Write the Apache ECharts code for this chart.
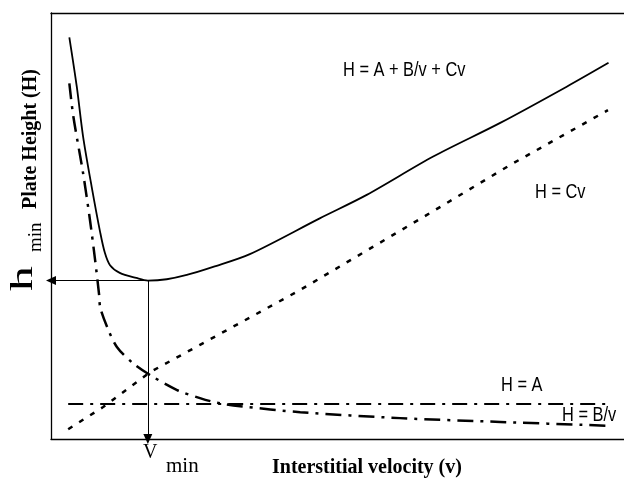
<!DOCTYPE html>
<html>
<head>
<meta charset="utf-8">
<script src="https://cdn.jsdelivr.net/npm/echarts@6/dist/echarts.min.js"></script>
<style>html,body{margin:0;padding:0;background:#fff}#c{width:624px;height:479px}</style>
</head>
<body>
<div id="c"></div>
<script>
// Velocity (v) and plate height (H) in arbitrary 0-100 units
var totalV = [3.2, 4.5, 5.6, 7.1, 8.6, 9.4, 10.3, 12.0, 14.9, 16.9, 20.2, 23.7, 28.3, 34.7, 46.9, 55.1, 66.7, 78.4, 90.0, 97.3];
var totalH = [94.3, 82.7, 71.0, 59.2, 48.4, 43.7, 40.8, 39.0, 37.8, 37.2, 37.5, 38.5, 40.4, 43.4, 51.8, 57.3, 66.3, 74.2, 82.7, 88.3];
var cvV = [3.0, 9.1, 17.3, 26.0, 43.5, 65.6, 80.1, 97.2];
var cvH = [2.3, 7.5, 15.7, 22.1, 35.0, 52.6, 64.3, 77.2];
var aV = [3.0, 97.6];
var aH = [8.2, 8.2];
var bvV = [3.2, 3.9, 5.6, 6.8, 7.7, 8.4, 8.6, 9.8, 11.5, 14.3, 17.3, 22.0, 26.0, 29.0, 33.0, 43.5, 60.9, 78.4, 97.6];
var bvH = [83.5, 75.7, 62.4, 51.4, 42.0, 33.8, 30.8, 26.3, 21.6, 17.8, 15.0, 11.5, 9.6, 8.5, 7.7, 6.3, 4.9, 4.0, 3.1];

function pairs(xs, ys) { return xs.map(function (x, i) { return [x, ys[i]]; }); }

// minimum of the total curve
var iMin = 0;
totalH.forEach(function (h, i) { if (h < totalH[iMin]) iMin = i; });
var vMin = totalV[iMin], hMin = totalH[iMin];

var chart = echarts.init(document.getElementById('c'), null, { renderer: 'canvas' });
var serif = '"Liberation Serif", "Times New Roman", serif';
var sans = '"Liberation Sans", Arial, sans-serif';
function eq(text, x, y) {
  return { type: 'text', x: x, y: y, scaleX: 0.78, silent: true,
    style: { text: text, font: '21px ' + sans, fill: '#000', textAlign: 'left', textVerticalAlign: 'middle' } };
}
var axisCommon = {
  type: 'value', min: 0, max: 100,
  axisLine: { show: true, onZero: false, lineStyle: { color: '#000', width: 1.3 } },
  axisTick: { show: false }, axisLabel: { show: false }, splitLine: { show: false }
};
chart.setOption({
  animation: false,
  backgroundColor: '#fff',
  grid: { left: 51, right: 0, top: 13, bottom: 40 },
  xAxis: [
    Object.assign({}, axisCommon, { position: 'bottom' }),
    Object.assign({}, axisCommon, { position: 'top' })
  ],
  yAxis: [ Object.assign({}, axisCommon, { position: 'left' }) ],
  series: [
    { type: 'line', data: pairs(totalV, totalH), showSymbol: false, smooth: 0.3,
      lineStyle: { color: '#000', width: 1.8 },
      markLine: { silent: true, symbol: ['none', 'triangle'], symbolSize: [9, 10],
        label: { show: false },
        lineStyle: { color: '#000', width: 1, type: 'solid' },
        data: [
          [{ coord: [vMin, hMin] }, { coord: [0, hMin] }],
          [{ coord: [vMin, hMin] }, { coord: [vMin, 0] }]
        ] } },
    { type: 'line', data: pairs(cvV, cvH), showSymbol: false,
      lineStyle: { color: '#000', width: 2.5, type: [5, 8] } },
    { type: 'line', data: pairs(aV, aH), showSymbol: false,
      lineStyle: { color: '#000', width: 2, type: [15, 7, 3, 7] } },
    { type: 'line', data: pairs(bvV, bvH), showSymbol: false, smooth: 0.3,
      lineStyle: { color: '#000', width: 2.5, type: [16, 7, 3, 7] } }
  ],
  graphic: [
    { type: 'text', x: 31, y: 139, rotation: Math.PI / 2, silent: true,
      style: { text: 'Plate Height (H)', font: 'bold 20px ' + serif, fill: '#000', textAlign: 'center', textVerticalAlign: 'middle' } },
    { type: 'text', x: 272, y: 468, silent: true,
      style: { text: 'Interstitial velocity (v)', font: 'bold 20px ' + serif, fill: '#000', textAlign: 'left', textVerticalAlign: 'middle' } },
    { type: 'text', x: 24, y: 291, rotation: Math.PI / 2, scaleX: 1.55, silent: true,
      style: { text: 'h', font: '32px ' + serif, fill: '#000', textAlign: 'left', textVerticalAlign: 'middle' } },
    { type: 'text', x: 36.5, y: 252, rotation: Math.PI / 2, silent: true,
      style: { text: 'min', font: '19px ' + serif, fill: '#000', textAlign: 'left', textVerticalAlign: 'middle' } },
    { type: 'text', x: 143, y: 453, silent: true,
      style: { text: 'V', font: '20px ' + serif, fill: '#000', textAlign: 'left', textVerticalAlign: 'middle' } },
    { type: 'text', x: 166, y: 466, silent: true,
      style: { text: 'min', font: '21px ' + serif, fill: '#000', textAlign: 'left', textVerticalAlign: 'middle' } },
    eq('H = A + B/v + Cv', 343, 70.7),
    eq('H = Cv', 535, 192.7),
    eq('H = A', 501, 385.7),
    eq('H = B/v', 562, 415.7)
  ]
});
</script>
</body>
</html>
